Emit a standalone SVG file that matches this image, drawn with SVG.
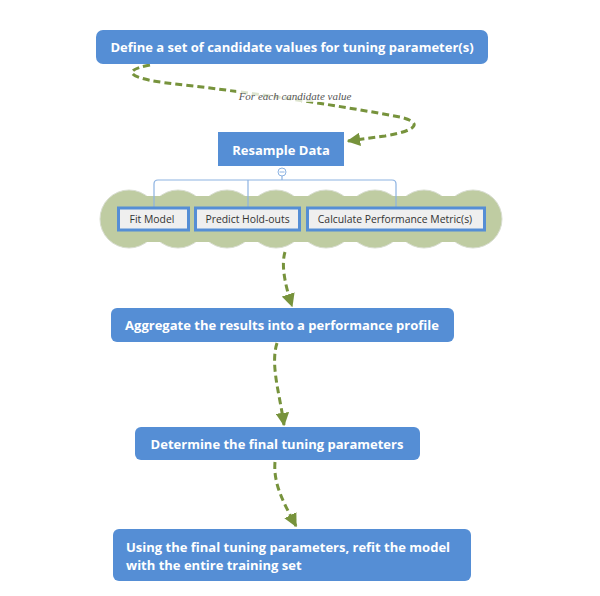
<svg xmlns="http://www.w3.org/2000/svg" width="600" height="596" viewBox="0 0 600 596">
<defs>
<style>
.box{fill:#558ed5;}
.t{font-family:"Open Sans","DejaVu Sans",sans-serif;font-weight:700;font-size:13px;fill:#ffffff;}
.sub{fill:#efefef;stroke:#558ed5;stroke-width:3;}
.st{font-family:"Open Sans","DejaVu Sans",sans-serif;font-size:10.4px;fill:#333333;text-anchor:middle;}
.conn{fill:none;stroke:#77933c;stroke-width:3;stroke-dasharray:7,4;}
.br{fill:none;stroke:#8db3e2;stroke-width:1.2;}
.cl{fill:#bfcca2;stroke:#d8ddd0;stroke-width:1;}
</style>
<marker id="ah" viewBox="0 0 10 10" refX="9" refY="5" markerWidth="4.5" markerHeight="4.5" orient="auto" markerUnits="strokeWidth">
<path d="M0,0 L10,5 L0,10 z" fill="#77933c"/>
</marker>
</defs>
<rect width="600" height="596" fill="#ffffff"/>

<g id="connectors">
<path class="conn" d="M150,65 C122,70 122,79 185,85 C260,94 330,104 400,117 C425,123 415,131 385,136 L348,141" marker-end="url(#ah)"/>
<rect x="236" y="89" width="119" height="13" fill="#ffffff" opacity="0.75"/>
<text x="295" y="99.5" text-anchor="middle" font-family="Liberation Serif,'DejaVu Serif',serif" font-style="italic" font-size="11px" fill="#555555">For each candidate value</text>
<path class="conn" d="M285,252 C281,265 285,285 292,306" marker-end="url(#ah)"/>
<path class="conn" d="M277,343 C270,365 280,395 284,425" marker-end="url(#ah)"/>
<path class="conn" d="M275,462 C273,485 285,505 296,526" marker-end="url(#ah)"/>
</g>

<g id="n1">
<rect class="box" x="96" y="30" width="392" height="34" rx="7"/>
<text class="t" x="292" y="52" text-anchor="middle">Define a set of candidate values for tuning parameter(s)</text>
</g>

<g id="n2">
<rect class="box" x="218" y="132" width="126" height="34"/>
<text class="t" x="281" y="155" text-anchor="middle">Resample Data</text>
</g>

<g id="cloud">
<circle class="cl" cx="129" cy="219" r="29"/>
<circle class="cl" cx="178" cy="219" r="29"/>
<circle class="cl" cx="227" cy="219" r="29"/>
<circle class="cl" cx="276" cy="219" r="29"/>
<circle class="cl" cx="326" cy="219" r="29"/>
<circle class="cl" cx="375" cy="219" r="29"/>
<circle class="cl" cx="424" cy="219" r="29"/>
<circle class="cl" cx="473" cy="219" r="29"/>
<rect x="129" y="196" width="344" height="46" fill="#bfcca2"/>
</g>

<g id="bracket">
<path class="br" d="M154,208 L154,184 Q154,180 158,180 L392,180 Q396,180 396,184 L396,208"/>
<path class="br" d="M248,208 L248,180"/>
<path class="br" d="M282,176 L282,180"/>
<circle cx="282" cy="172" r="4" fill="#ffffff" stroke="#8db3e2" stroke-width="1"/>
<line x1="279.5" y1="172" x2="284.5" y2="172" stroke="#8db3e2" stroke-width="1"/>
</g>

<g id="fit">
<rect class="sub" x="118.5" y="208" width="70" height="22"/>
<text class="st" x="152" y="223">Fit Model</text>
</g>
<g id="predict">
<rect class="sub" x="195.5" y="208" width="104" height="22"/>
<text class="st" x="247.5" y="223">Predict Hold-outs</text>
</g>
<g id="calc">
<rect class="sub" x="307.5" y="208" width="177" height="22"/>
<text class="st" x="395" y="223">Calculate Performance Metric(s)</text>
</g>

<g id="n3">
<rect class="box" x="111" y="308" width="343" height="34" rx="6"/>
<text class="t" x="282" y="330" text-anchor="middle">Aggregate the results into a performance profile</text>
</g>

<g id="n4">
<rect class="box" x="135" y="427" width="285" height="33" rx="6"/>
<text class="t" x="277" y="449" text-anchor="middle">Determine the final tuning parameters</text>
</g>

<g id="n5">
<rect class="box" x="113" y="529" width="358" height="52" rx="6"/>
<text class="t" x="126" y="552">Using the final tuning parameters, refit the model</text>
<text class="t" x="126" y="570">with the entire training set</text>
</g>
</svg>
